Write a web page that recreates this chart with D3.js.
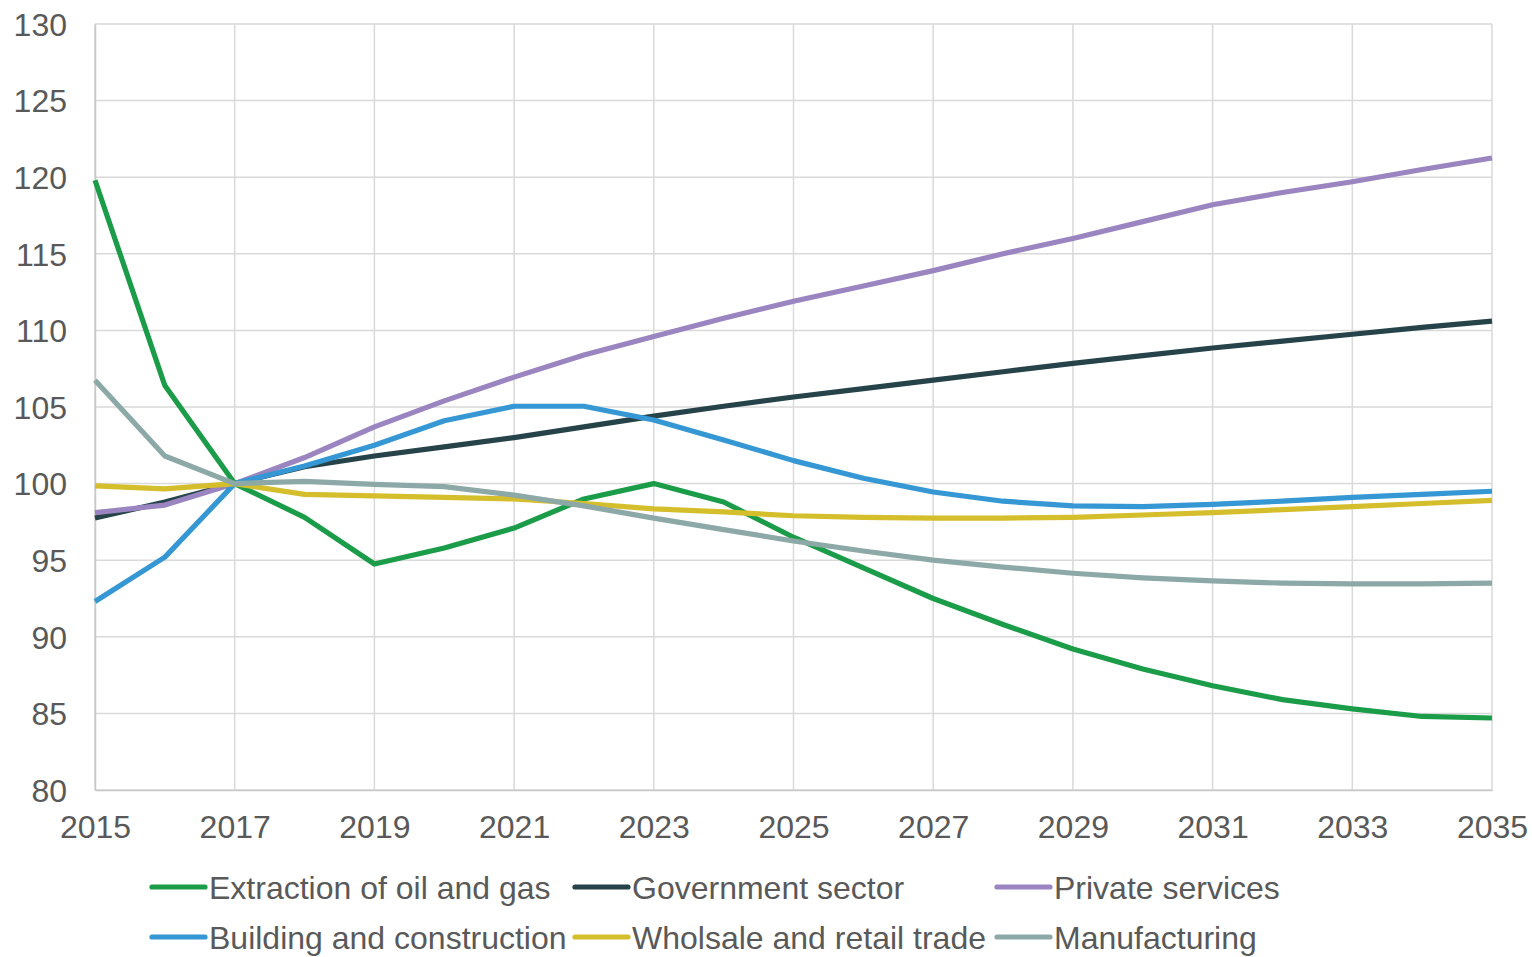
<!DOCTYPE html>
<html>
<head>
<meta charset="utf-8">
<script src="https://cdn.jsdelivr.net/npm/d3@7"></script>
<style>
  html, body { margin: 0; padding: 0; background: #fff; }
  svg text { font-family: "Liberation Sans", Arial, sans-serif; fill: #595959; }
</style>
</head>
<body>
<svg id="chart" width="1532" height="957"></svg>
<script>
// Index of employment by sector, 2017 = 100
const years = d3.range(2015, 2036);

const extraction   = [119.8, 106.4, 100.0, 97.8, 94.75, 95.8, 97.1, 99.0, 100.0, 98.8, 96.5, 94.5, 92.5, 90.8, 89.2, 87.9, 86.8, 85.9, 85.3, 84.8, 84.7];
const government   = [97.75, 98.8, 100.0, 101.1, 101.8, 102.4, 103.0, 103.7, 104.4, 105.05, 105.65, 106.2, 106.75, 107.3, 107.85, 108.35, 108.85, 109.3, 109.75, 110.2, 110.6];
const privateSvc   = [98.1, 98.6, 100.0, 101.7, 103.7, 105.4, 106.95, 108.4, 109.6, 110.8, 111.9, 112.9, 113.9, 115.0, 116.0, 117.1, 118.2, 119.0, 119.7, 120.5, 121.25];
const building     = [92.3, 95.2, 100.0, 101.15, 102.5, 104.1, 105.05, 105.05, 104.15, 102.85, 101.5, 100.35, 99.45, 98.85, 98.55, 98.5, 98.65, 98.85, 99.1, 99.3, 99.5];
const wholesale    = [99.85, 99.65, 100.0, 99.3, 99.2, 99.1, 99.0, 98.7, 98.35, 98.15, 97.9, 97.8, 97.75, 97.75, 97.8, 97.95, 98.1, 98.3, 98.5, 98.7, 98.9];
const manufacturing= [106.75, 101.8, 100.0, 100.15, 99.95, 99.8, 99.25, 98.55, 97.75, 97.0, 96.25, 95.6, 95.0, 94.55, 94.15, 93.85, 93.65, 93.5, 93.45, 93.45, 93.5];

const xTicks = d3.range(2015, 2036, 2);
const yTicks = d3.range(80, 131, 5);

const series = [
  { name: "Extraction of oil and gas", values: extraction,    color: "#1b9c48" },
  { name: "Government sector",         values: government,    color: "#26434a" },
  { name: "Private services",          values: privateSvc,    color: "#9a85c1" },
  { name: "Building and construction", values: building,      color: "#3597d3" },
  { name: "Wholsale and retail trade", values: wholesale,     color: "#d5be2b" },
  { name: "Manufacturing",             values: manufacturing, color: "#8da9a7" }
];

const svg = d3.select("#chart");
const margin = { left: 95, right: 40, top: 24, bottom: 167 };
const width = 1532, height = 957;

const x = d3.scaleLinear().domain([2015, 2035]).range([margin.left, width - margin.right]);
const y = d3.scaleLinear().domain([80, 130]).range([height - margin.bottom, margin.top]);

const fontSize = 32;

// gridlines
svg.append("g")
  .selectAll("line.h")
  .data(yTicks)
  .join("line")
  .attr("x1", x(2015)).attr("x2", x(2035))
  .attr("y1", d => y(d)).attr("y2", d => y(d))
  .attr("stroke", "#d9d9d9").attr("stroke-width", 1.5);

svg.append("g")
  .selectAll("line.v")
  .data(xTicks)
  .join("line")
  .attr("x1", d => x(d)).attr("x2", d => x(d))
  .attr("y1", y(130)).attr("y2", y(80))
  .attr("stroke", "#d9d9d9").attr("stroke-width", 1.5);

// axes
const yAxis = d3.axisLeft(y).tickValues(yTicks).tickSize(0).tickPadding(28);
const gy = svg.append("g").attr("transform", `translate(${x(2015)},0)`).call(yAxis);
gy.select(".domain").attr("stroke", "#c8c8c8").attr("stroke-width", 1.5);
gy.selectAll("text").style("font-size", fontSize + "px").attr("dy", "0.35em").attr("fill", "#595959");

const xAxis = d3.axisBottom(x).tickValues(xTicks).tickFormat(d3.format("d")).tickSize(0).tickPadding(25);
const gx = svg.append("g").attr("transform", `translate(0,${y(80)})`).call(xAxis);
gx.select(".domain").attr("stroke", "#c8c8c8").attr("stroke-width", 1.5);
gx.selectAll("text").style("font-size", fontSize + "px").attr("fill", "#595959");

// lines
const line = d3.line()
  .x((d, i) => x(years[i]))
  .y(d => y(d));

svg.append("g")
  .selectAll("path")
  .data(series)
  .join("path")
  .attr("d", s => line(s.values))
  .attr("fill", "none")
  .attr("stroke", s => s.color)
  .attr("stroke-width", 5.2)
  .attr("stroke-linejoin", "round");

// legend
const colX = [152, 575, 997];
const rowY = [887, 937];
const legend = svg.append("g");
series.forEach((s, i) => {
  const cx = colX[i % 3], cy = rowY[Math.floor(i / 3)];
  legend.append("line")
    .attr("x1", cx).attr("x2", cx + 53)
    .attr("y1", cy).attr("y2", cy)
    .attr("stroke", s.color).attr("stroke-width", 5.2).attr("stroke-linecap", "round");
  legend.append("text")
    .attr("x", cx + 57).attr("y", cy)
    .attr("dy", "0.36em")
    .style("font-size", fontSize + "px")
    .text(s.name);
});
</script>
</body>
</html>
